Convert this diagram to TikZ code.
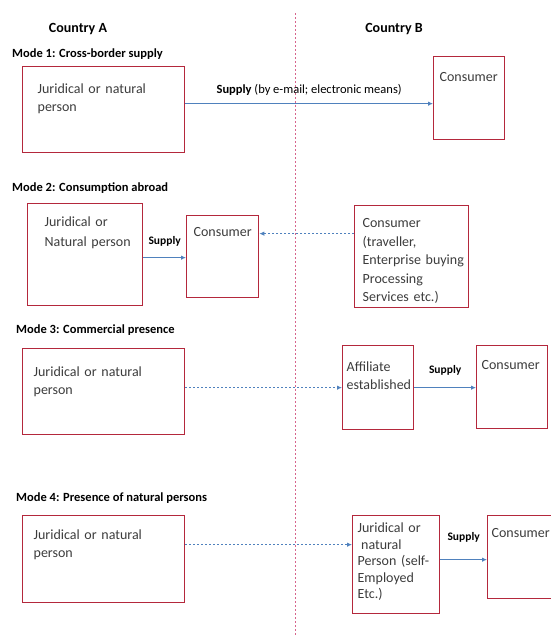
\documentclass[tikz,border=0pt]{standalone}
\usepackage{fontspec}
\setmainfont{Carlito}
\usetikzlibrary{arrows.meta}

\definecolor{boxred}{RGB}{180,40,60}
\definecolor{flowblue}{RGB}{79,129,189}
\definecolor{borderpink}{RGB}{215,100,140}
\definecolor{inktext}{RGB}{60,60,60}

\begin{document}
\begin{tikzpicture}[x=1pt, y=-1pt, >={Latex[length=5pt,width=4.5pt]},
    party/.style={draw=boxred, line width=1.3pt, anchor=north west, align=left, inner ysep=0pt, text=inktext, font=\fontsize{14}{18}\selectfont, execute at begin node={\hyphenpenalty=10000\exhyphenpenalty=10000}},
    supply/.style={->, draw=flowblue, line width=0.9pt},
    visit/.style={->, draw=flowblue, line width=0.9pt, dash pattern=on 2pt off 2pt},
    border/.style={draw=borderpink, line width=1pt, dash pattern=on 2pt off 2pt},
    modelabel/.style={anchor=west, inner sep=0pt, font=\bfseries\fontsize{12.5}{15}\selectfont},
    country/.style={inner sep=0pt, font=\bfseries\fontsize{14}{17}\selectfont},
    flowlabel/.style={inner sep=0pt, font=\fontsize{12.5}{15}\selectfont},
    supplytag/.style={inner sep=0pt, font=\bfseries\fontsize{11.5}{14}\selectfont}]

    \useasboundingbox (0,0) rectangle (551,635);
    \clip (0,0) rectangle (551,635);

    \coordinate (divtop) at (295,13);
    \coordinate (divbot) at (295,640);
    \draw [border] (divtop) -- (divbot);

    \node [country] (ctyA) at (78,29) {Country A};
    \node [country] (ctyB) at (394,29) {Country B};

    \node [modelabel] (m1) at (12,54) {Mode 1: Cross-border supply};
    \node [party, inner xsep=15pt, text width=132pt, text height=27pt, text depth=59pt] (A1) at (22,66) {Juridical or natural\\person};
    \node [party, inner xsep=6pt, text width=59pt, text height=25pt, text depth=58pt] (B1) at (433,56) {Consumer};

    \node [modelabel] (m2) at (12,188) {Mode 2: Consumption abroad};
    \node [party, font=\fontsize{14}{20}\selectfont, inner xsep=17pt, text width=81pt, text height=23pt, text depth=79pt] (A2) at (27,203) {Juridical or\\Natural~person};
    \node [party, inner xsep=7pt, text width=58pt, text height=21pt, text depth=61pt] (C2) at (186,215) {Consumer};
    \node [party, font=\fontsize{14}{18.5}\selectfont, inner xsep=8pt, text width=98pt, text height=22pt, text depth=80pt] (D2) at (354,205) {Consumer\\(traveller,\\Enterprise~buying\\Processing\\Services~etc.)};

    \node [modelabel] (m3) at (16,330) {Mode 3: Commercial presence};
    \node [party, inner xsep=11pt, text width=140pt, text height=28pt, text depth=58pt] (A3) at (22,348) {Juridical or natural\\person};
    \node [party, inner xsep=4pt, text width=63pt, text height=26pt, text depth=58pt] (F3) at (342,345) {Affiliate\\established};
    \node [party, inner xsep=5pt, text width=61pt, text height=24pt, text depth=59pt] (C3) at (476,345) {Consumer};

    \node [modelabel] (m4) at (16,498) {Mode 4: Presence of natural persons};
    \node [party, inner xsep=11pt, text width=140pt, text height=24pt, text depth=63pt] (A4) at (22,515) {Juridical or natural\\person};
    \node [party, font=\fontsize{14}{16.5}\selectfont, inner xsep=5pt, text width=77pt, text height=17pt, text depth=81pt] (P4) at (352,515) {Juridical~or\\\hspace*{3.5pt}natural\\Person~(self-\\Employed\\Etc.)};
    \node [party, inner xsep=4pt, text width=63pt, text height=22pt, text depth=61pt] (C4) at (487,515) {Consumer};

    \draw [supply] ([yshift=6pt]A1.east) -- ([yshift=6pt]A1.east -| B1.west) node [flowlabel, midway, yshift=14pt] (s1) {\textbf{Supply} (by e-mail; electronic means)};
    \draw [supply] ([yshift=-3pt]A2.east) -- ([yshift=-3pt]A2.east -| C2.west) node [supplytag, midway, yshift=16pt] (s2) {Supply};
    \draw [visit] ([yshift=23pt]C2.east -| D2.west) -- ([yshift=23pt]C2.east);
    \draw [visit] ([yshift=4pt]A3.east) -- ([yshift=4pt]A3.east -| F3.west);
    \draw [supply] (F3.east) -- (F3.east -| C3.west) node [supplytag, midway, yshift=17pt] (s3) {Supply};
    \draw [visit] ([yshift=14.5pt]A4.east) -- ([yshift=14.5pt]A4.east -| P4.west);
    \draw [supply] ([yshift=5pt]P4.east) -- ([yshift=5pt]P4.east -| C4.west) node [supplytag, midway, yshift=22pt] (s4) {Supply};
\end{tikzpicture}
\end{document}
